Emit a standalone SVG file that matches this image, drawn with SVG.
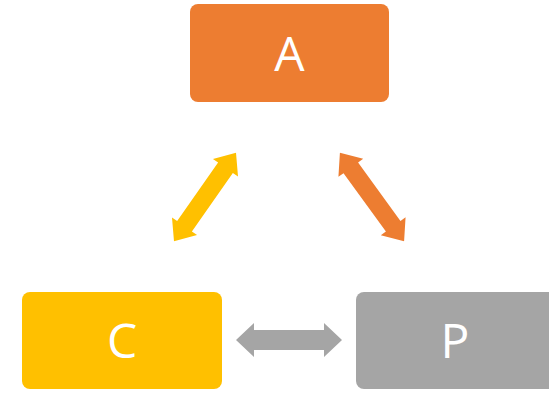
<svg xmlns="http://www.w3.org/2000/svg" width="549" height="401" viewBox="0 0 549 401">
<style>
.lbl{font-family:"Open Sans","Liberation Sans",sans-serif;font-size:48px;fill:#ffffff;text-anchor:middle;dominant-baseline:central}
</style>
<defs>
<polygon id="dbl" points="-53,0 -35,-17 -35,-10 35,-10 35,-17 53,0 35,17 35,10 -35,10 -35,17"/>
</defs>
<rect width="549" height="401" fill="#ffffff"/>
<g id="connectors">
<use href="#dbl" fill="#FFC000" transform="translate(205,197) rotate(-55) scale(1.02,0.9)"/>
<use href="#dbl" fill="#ED7D31" transform="translate(372,197) rotate(54) scale(1.03,0.9)"/>
<use href="#dbl" fill="#A5A5A5" transform="translate(289,340)"/>
</g>
<g id="node-A">
<rect x="190" y="4" width="199" height="98" rx="8" fill="#ED7D31"/>
<text class="lbl" x="289.5" y="52">A</text>
</g>
<g id="node-C">
<rect x="22" y="292" width="200" height="97" rx="8" fill="#FFC000"/>
<text class="lbl" x="122" y="339">C</text>
</g>
<g id="node-P">
<rect x="356" y="292" width="203" height="97" rx="8" fill="#A5A5A5"/>
<text class="lbl" x="455" y="339">P</text>
</g>
</svg>
